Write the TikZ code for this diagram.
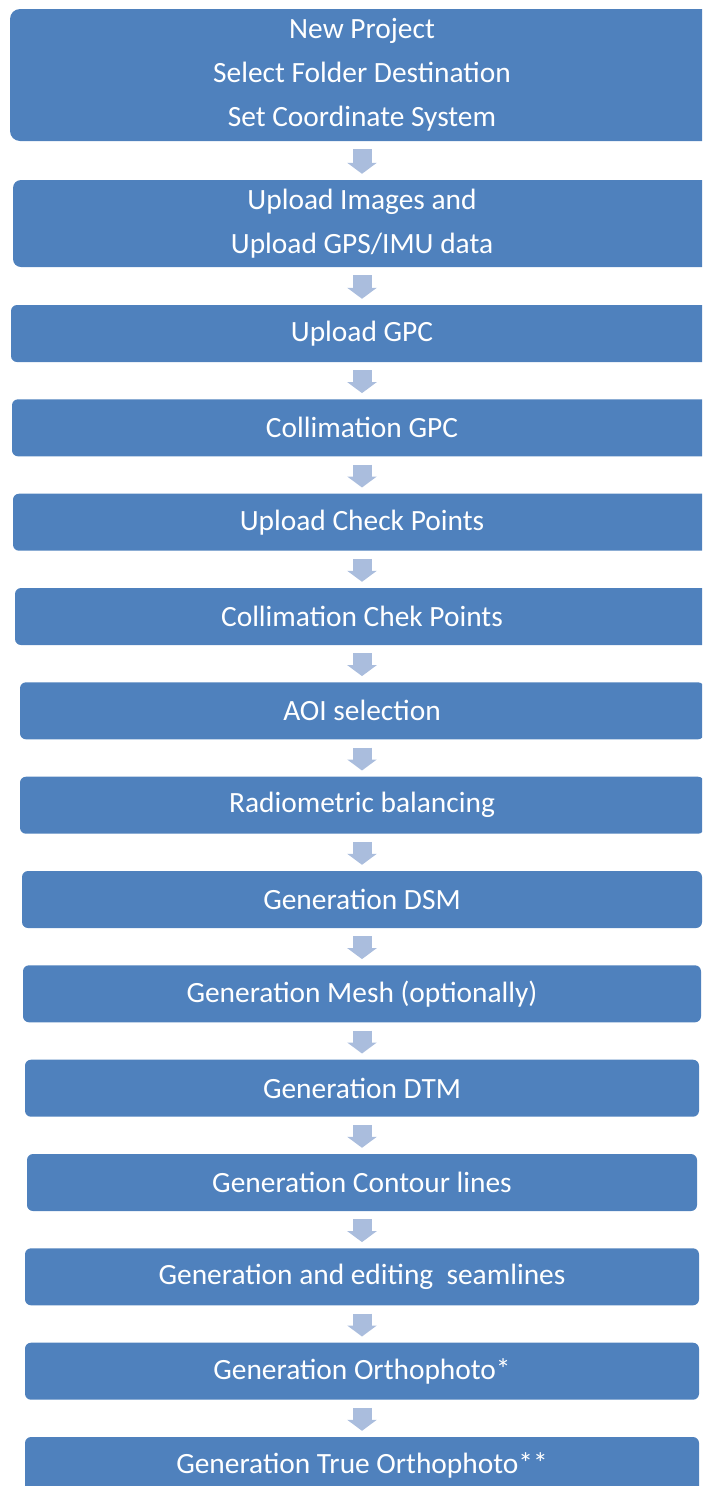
\documentclass[tikz,border=0pt]{standalone}
\usepackage{fontspec}
\setmainfont{Carlito}
\usepackage{tikz}
\usetikzlibrary{arrows.meta}
\definecolor{stageblue}{RGB}{79,129,189}
\definecolor{flowblue}{RGB}{170,189,221}

\begin{document}
\begin{tikzpicture}[x=1pt,y=-1pt,
  stage/.style={rectangle,rounded corners=6pt,fill=stageblue,text=white,
    font=\fontsize{29.4}{44}\selectfont,inner sep=0pt,align=center,minimum height=57pt},
  flow/.style={draw=flowblue,line width=19pt,shorten <=8pt,shorten >=6pt,
    -{Triangle[width=29pt,length=11pt]}}]
\clip (0,0) rectangle (702,1486);
% stages, all centred on x=362
\node[stage,rounded corners=10pt,minimum width=704pt,minimum height=132pt] (project) at (362,75) {New Project\\Select Folder Destination\\Set Coordinate System};
\node[stage,rounded corners=8pt,minimum width=698pt,minimum height=87pt] (upload) at (362,223.5) {Upload Images and\\Upload GPS/IMU data};
\node[stage,minimum width=702pt] (gpc) at (362,333.5) {Upload GPC};
\node[stage,minimum width=700pt] (colgpc) at (362,427.8) {Collimation GPC};
\node[stage,minimum width=698pt] (check) at (362,522.2) {Upload Check Points};
\node[stage,minimum width=694pt] (colcheck) at (362,616.5) {Collimation Chek Points};
\node[stage,minimum width=684pt] (aoi) at (362,710.8) {AOI selection};
\node[stage,minimum width=684pt] (radio) at (362,805.2) {Radiometric balancing};
\node[stage,minimum width=680pt] (dsm) at (362,899.5) {Generation DSM};
\node[stage,minimum width=678pt] (mesh) at (362,993.8) {Generation Mesh (optionally)};
\node[stage,minimum width=674pt] (dtm) at (362,1088.2) {Generation DTM};
\node[stage,minimum width=670pt] (contour) at (362,1182.5) {Generation Contour lines};
\node[stage,minimum width=674pt] (seam) at (362,1276.8) {Generation and editing\ \ seamlines};
\node[stage,minimum width=674pt] (ortho) at (362,1371.2) {Generation Orthophoto*};
\node[stage,minimum width=674pt] (trueortho) at (362,1465.5) {Generation True Orthophoto**};
% block arrows
\draw[flow] (project) -- (upload);
\draw[flow] (upload) -- (gpc);
\draw[flow] (gpc) -- (colgpc);
\draw[flow] (colgpc) -- (check);
\draw[flow] (check) -- (colcheck);
\draw[flow] (colcheck) -- (aoi);
\draw[flow] (aoi) -- (radio);
\draw[flow] (radio) -- (dsm);
\draw[flow] (dsm) -- (mesh);
\draw[flow] (mesh) -- (dtm);
\draw[flow] (dtm) -- (contour);
\draw[flow] (contour) -- (seam);
\draw[flow] (seam) -- (ortho);
\draw[flow] (ortho) -- (trueortho);
\end{tikzpicture}
\end{document}
